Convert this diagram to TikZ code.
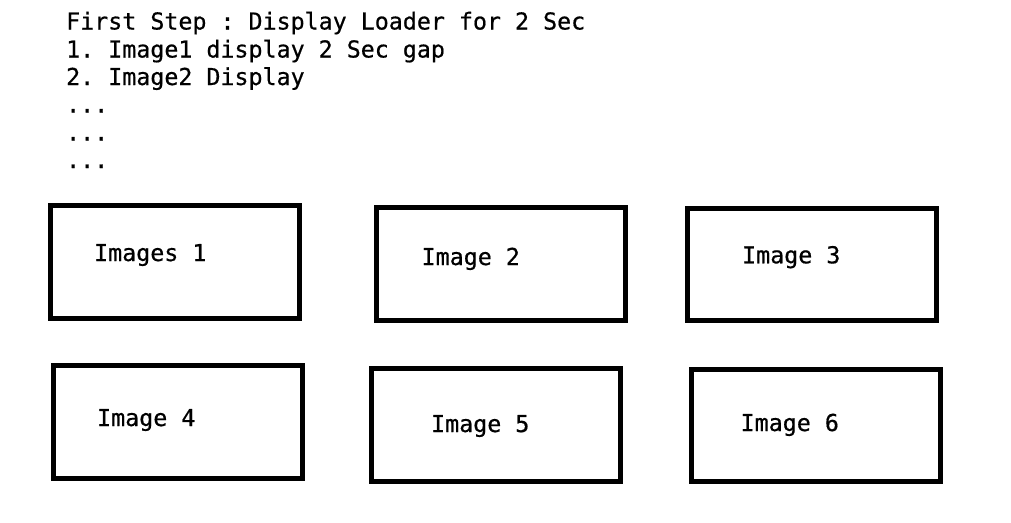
\documentclass[tikz,border=0pt]{standalone}
\usepackage{fontspec}
\setmonofont[FakeBold=0.6]{DejaVu Sans Mono}
\begin{document}
\begin{tikzpicture}[x=1pt,y=-1pt,
  txt/.style={inner sep=0pt, anchor=base west, font=\ttfamily\fontsize{23.3}{28}\selectfont},
  imgbox/.style={draw=black, line width=5pt, minimum width=249pt, minimum height=113pt, inner sep=0pt}]
\useasboundingbox[fill=white] (0,0) rectangle (1011,522);
% header text
\node[txt] (l1) at (66,29.5) {First Step : Display Loader for 2 Sec};
\node[txt] (l2) at (66,57.5) {1. Image1 display 2 Sec gap};
\node[txt] (l3) at (66,85) {2. Image2 Display};
\node[txt] (l4) at (66,112.5) {...};
\node[txt] (l5) at (66,140.5) {...};
\node[txt] (l6) at (66,168) {...};
% boxes
\node[imgbox] (b1) at (175,262) {};
\node[imgbox] (b2) at (501,264) {};
\node[imgbox, minimum height=112pt] (b3) at (812,264.6) {};
\node[imgbox] (b4) at (178,422) {};
\node[imgbox] (b5) at (496,425) {};
\node[imgbox, minimum height=112.6pt] (b6) at (816,425.5) {};
% labels
\node[txt] (t1) at (94,261) {Images 1};
\node[txt] (t2) at (421.5,265) {Image 2};
\node[txt] (t3) at (742,263.3) {Image 3};
\node[txt] (t4) at (97,426) {Image 4};
\node[txt] (t5) at (431,432) {Image 5};
\node[txt] (t6) at (740.5,431) {Image 6};
\end{tikzpicture}
\end{document}
